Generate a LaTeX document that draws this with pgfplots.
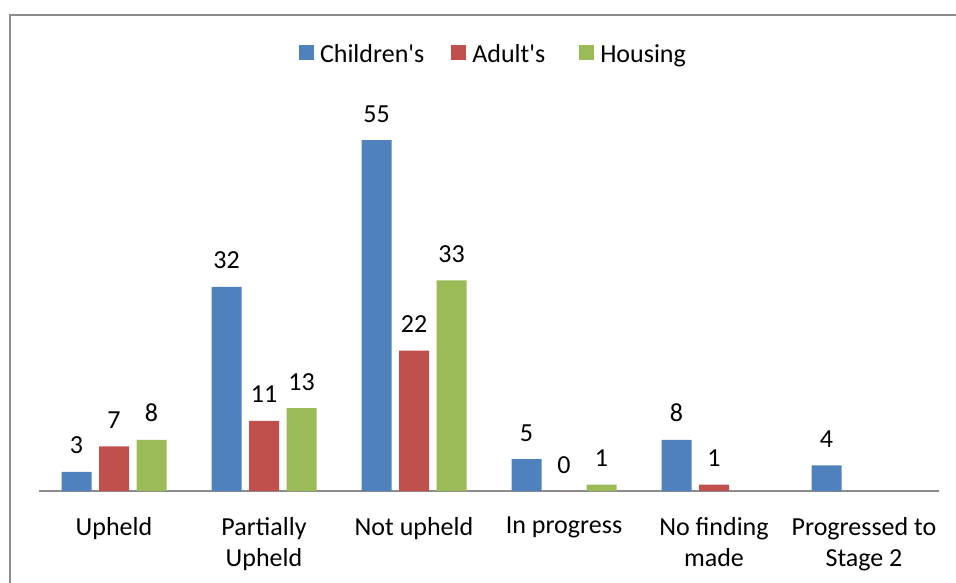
\documentclass[border=0pt]{standalone}
\usepackage{pgfplots}
\pgfplotsset{compat=1.18}
\usepackage{fontspec}
\setmainfont{Carlito}[Ligatures=TeXOff]
\definecolor{cblue}{HTML}{4F81BD}
\definecolor{cred}{HTML}{C0504D}
\definecolor{cgreen}{HTML}{9BBB59}
\definecolor{framegray}{HTML}{8C8C8C}
\newcommand\ls{\rule[-6pt]{0pt}{24pt}}
\begin{document}
\begin{tikzpicture}[font=\fontsize{26}{31}\selectfont]
\useasboundingbox (-39pt,-91pt) rectangle (917pt,491pt);
\draw[framegray, line width=2pt] (-29pt,-100pt) -- (-29pt,476pt) -- (930pt,476pt);
\begin{axis}[
  at={(0pt,0pt)}, anchor=south west,
  x=150pt, y=6.38pt,
  xmin=-0.5, xmax=5.5, ymin=0, ymax=76.96,
  enlargelimits=false,
  ybar=7.5pt, bar width=30pt,
  axis x line*=bottom, axis y line=none,
  axis line style={draw=framegray, line width=2pt},
  xtick={0,1,2,3,4,5},
  xticklabels={Upheld,{Partially\\Upheld},{Not upheld},{In progress},{No finding\\made},{Progressed to\\Stage 2}},
  major tick length=0pt,
  xticklabel style={align=center, anchor=north, inner sep=0pt, yshift=-26pt, text=black},
  /pgf/number format/assume math mode=true,
  nodes near coords,
  every node near coord/.append style={anchor=base, inner sep=0pt, yshift=18pt, text=black},
  clip=false,
  legend columns=3,
  legend style={draw=none, fill=none, inner sep=0pt, outer sep=0pt,
    at={(0.2889,0.8895)}, anchor=west,
    /tikz/every odd column/.append style={column sep=6pt},
    /tikz/column 2/.append style={column sep=27pt},
    /tikz/column 4/.append style={column sep=34pt},
    nodes={inner sep=0pt}},
  legend image code/.code={\fill[#1,draw=none] (0pt,-6pt) rectangle (15pt,9pt);},
]
\addplot[fill=cblue, draw=none] coordinates {(0,3) (1,32) (2,55) (3,5) (4,8) (5,4)};
\addplot[fill=cred, draw=none] coordinates {(0,7) (1,11) (2,22) (3,0) (4,1)};
\addplot[fill=cgreen, draw=none] coordinates {(0,8) (1,13) (2,33) (3,1)};
\legend{\ls Children's, \ls Adult's, \ls Housing}
\end{axis}
\end{tikzpicture}
\end{document}
